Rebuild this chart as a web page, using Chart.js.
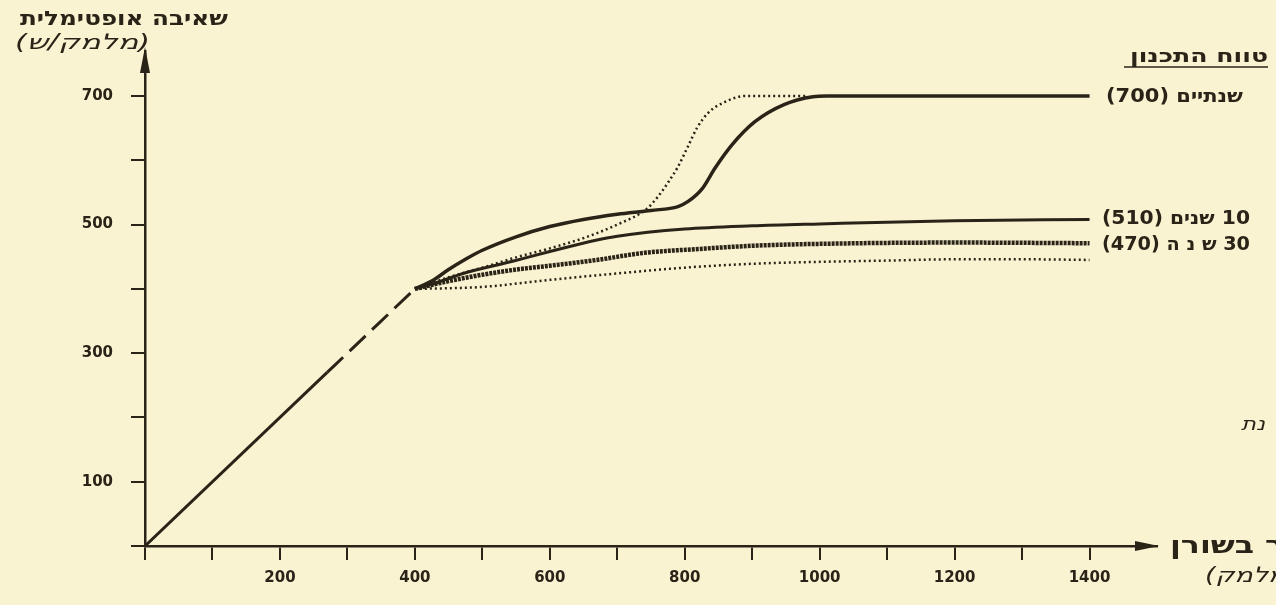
<!DOCTYPE html>
<html>
<head>
<meta charset="utf-8">
<script src="https://cdn.jsdelivr.net/npm/chart.js@4.4.1/dist/chart.umd.min.js"></script>
<style>
html,body{margin:0;padding:0;background:#faf3d2;}
canvas{display:block;}
</style>
</head>
<body>
<canvas id="chart" width="1276" height="605"></canvas>
<script>
// values (x: storage, y: optimal pumping)
const trendX = [0, 270, 400];
const trendY = [0, 270, 400];

const twoYearX = [400, 425, 450, 475, 500, 550, 600, 650, 700, 750, 790, 805, 826, 845, 870, 904, 948, 990, 1010, 1400];
const twoYearY = [400, 412, 430, 446, 460, 481, 497, 508, 516, 522, 528, 536, 556, 588, 624, 660, 687, 699, 700, 700];

const altX = [400, 450, 500, 550, 600, 650, 700, 743, 760, 775, 790, 805, 818, 835, 860, 890, 980];
const altY = [400, 418, 433, 449, 463, 479, 500, 524, 543, 565, 590, 622, 650, 674, 691, 700, 700];

const tenYearX = [400, 425, 475, 545, 600, 670, 700, 800, 900, 1000, 1200, 1400];
const tenYearY = [400, 407, 425, 443, 458, 476, 482, 493, 498, 501, 506, 508];

const thirtyYearX = [400, 450, 500, 550, 600, 670, 740, 820, 900, 1000, 1200, 1400];
const thirtyYearY = [400, 412, 422, 430, 436, 445, 456, 462, 467, 470, 472, 471];

const lowX = [400, 450, 500, 600, 700, 800, 900, 1000, 1100, 1200, 1300, 1400];
const lowY = [400, 401, 403, 414, 424, 433, 439, 442, 444, 446, 446, 445];

const xTickValues = [0, 100, 200, 300, 400, 500, 600, 700, 800, 900, 1000, 1100, 1200, 1300, 1400];
const xTickLabels = [200, 400, 600, 800, 1000, 1200, 1400];
const yTickValues = [0, 100, 200, 300, 400, 500, 600, 700];
const yTickLabels = [100, 300, 500, 700];

const horizonNames = ["שנתיים (700)", "10 שנים (510)", "30 ש נ ה (470)"];
const horizonValues = [700, 510, 470];

const ink = "#2a2418";
const paper = "#faf3d2";

function pts(xs, ys){
  return xs.map((x, i) => ({x: x, y: ys[i]}));
}

// draw text from its left edge, squeezed or stretched to a width
function fitText(c, text, x, y, w){
  const m = c.measureText(text).width;
  c.save();
  c.translate(x, y);
  c.scale(w / m, 1);
  c.fillText(text, 0, 0);
  c.restore();
}

const figureText = {
  id: "figureText",
  beforeDraw(chart){
    const c = chart.ctx;
    c.save();
    c.fillStyle = paper;
    c.fillRect(0, 0, chart.width, chart.height);
    c.restore();
  },
  afterDraw(chart){
    const c = chart.ctx;
    const xs = chart.scales.x;
    const ys = chart.scales.y;
    const x0 = xs.getPixelForValue(0);
    const y0 = ys.getPixelForValue(0);
    const top = ys.getPixelForValue(ys.max);
    const right = xs.getPixelForValue(xs.max);

    c.save();
    c.fillStyle = ink;
    c.strokeStyle = ink;

    // arrow heads
    c.beginPath();
    c.moveTo(x0, top - 4);
    c.lineTo(x0 - 5, top + 22);
    c.lineTo(x0 + 5, top + 22);
    c.closePath();
    c.fill();

    c.beginPath();
    c.moveTo(right + 2, y0);
    c.lineTo(right - 22, y0 - 5);
    c.lineTo(right - 22, y0 + 5);
    c.closePath();
    c.fill();

    c.direction = "rtl";
    c.textBaseline = "middle";
    c.textAlign = "left";

    // y axis title
    c.font = "bold 20px 'DejaVu Sans'";
    fitText(c, "שאיבה אופטימלית", 20, 20, 208);
    c.font = "oblique 21px 'DejaVu Sans'";
    fitText(c, "(מלמק/ש)", 15, 44, 135);

    // planning horizon header
    c.font = "bold 19px 'DejaVu Sans'";
    fitText(c, "טווח התכנון", 1130, 57, 138);
    c.lineWidth = 1.5;
    c.beginPath();
    c.moveTo(1124, 67);
    c.lineTo(1268, 67);
    c.stroke();

    // series labels at their end values
    c.font = "bold 19px 'DejaVu Sans'";
    fitText(c, horizonNames[0], 1106, ys.getPixelForValue(horizonValues[0]) + 1, 137);
    fitText(c, horizonNames[1], 1102, ys.getPixelForValue(horizonValues[1]) + 1, 148);
    fitText(c, horizonNames[2], 1102, ys.getPixelForValue(horizonValues[2]) + 1, 148);

    // cropped texts at the right edge
    c.font = "oblique 18px 'DejaVu Sans'";
    fitText(c, "נת", 1241, 425, 24);
    c.font = "bold 24px 'DejaVu Sans'";
    fitText(c, "ר בשורן", 1170, y0 + 1, 114);
    c.font = "oblique 21px 'DejaVu Sans'";
    fitText(c, "(מלמק)", 1205, y0 + 31, 92);

    c.restore();
  }
};

new Chart(document.getElementById("chart"), {
  type: "scatter",
  data: {
    datasets: [
      {
        label: "trend",
        data: pts(trendX, trendY),
        borderWidth: 3,
        segment: {
          borderDash: ctx => ctx.p0DataIndex === 1 ? [22, 9] : undefined
        }
      },
      {
        label: "שנתיים",
        data: pts(twoYearX, twoYearY),
        borderWidth: 3.5
      },
      {
        label: "alt",
        data: pts(altX, altY),
        borderWidth: 2.5,
        borderDash: [2, 3]
      },
      {
        label: "10 שנים",
        data: pts(tenYearX, tenYearY),
        borderWidth: 3
      },
      {
        label: "30 שנה",
        data: pts(thirtyYearX, thirtyYearY),
        borderWidth: 4.5,
        borderDash: [3, 1]
      },
      {
        label: "low",
        data: pts(lowX, lowY),
        borderWidth: 2.5,
        borderDash: [2, 3]
      }
    ].map(d => Object.assign({
      showLine: true,
      pointRadius: 0,
      borderColor: ink,
      backgroundColor: ink,
      cubicInterpolationMode: "monotone",
      fill: false
    }, d))
  },
  options: {
    responsive: false,
    animation: false,
    devicePixelRatio: 1,
    layout: {padding: {top: 51, right: 119, left: 0, bottom: 0}},
    plugins: {legend: {display: false}, tooltip: {enabled: false}},
    scales: {
      x: {
        type: "linear",
        min: 0,
        max: 1500,
        afterBuildTicks: s => { s.ticks = xTickValues.map(v => ({value: v})); },
        afterFit: s => { s.height = 59; },
        grid: {drawOnChartArea: false, drawTicks: true, tickLength: 14, color: ink, lineWidth: 2},
        border: {display: true, color: ink, width: 2.5},
        ticks: {
          autoSkip: false,
          maxRotation: 0,
          padding: 9,
          color: ink,
          font: {family: "DejaVu Sans", weight: "bold", size: 15},
          callback: v => xTickLabels.includes(v) ? String(v) : ""
        }
      },
      y: {
        type: "linear",
        min: 0,
        max: 770,
        afterBuildTicks: s => { s.ticks = yTickValues.map(v => ({value: v})); },
        afterFit: s => { s.width = 145; },
        grid: {drawOnChartArea: false, drawTicks: true, tickLength: 14, color: ink, lineWidth: 2},
        border: {display: true, color: ink, width: 2.5},
        ticks: {
          autoSkip: false,
          padding: 18,
          color: ink,
          font: {family: "DejaVu Sans", weight: "bold", size: 15},
          callback: v => yTickLabels.includes(v) ? String(v) : ""
        }
      }
    }
  },
  plugins: [figureText]
});
</script>
</body>
</html>
